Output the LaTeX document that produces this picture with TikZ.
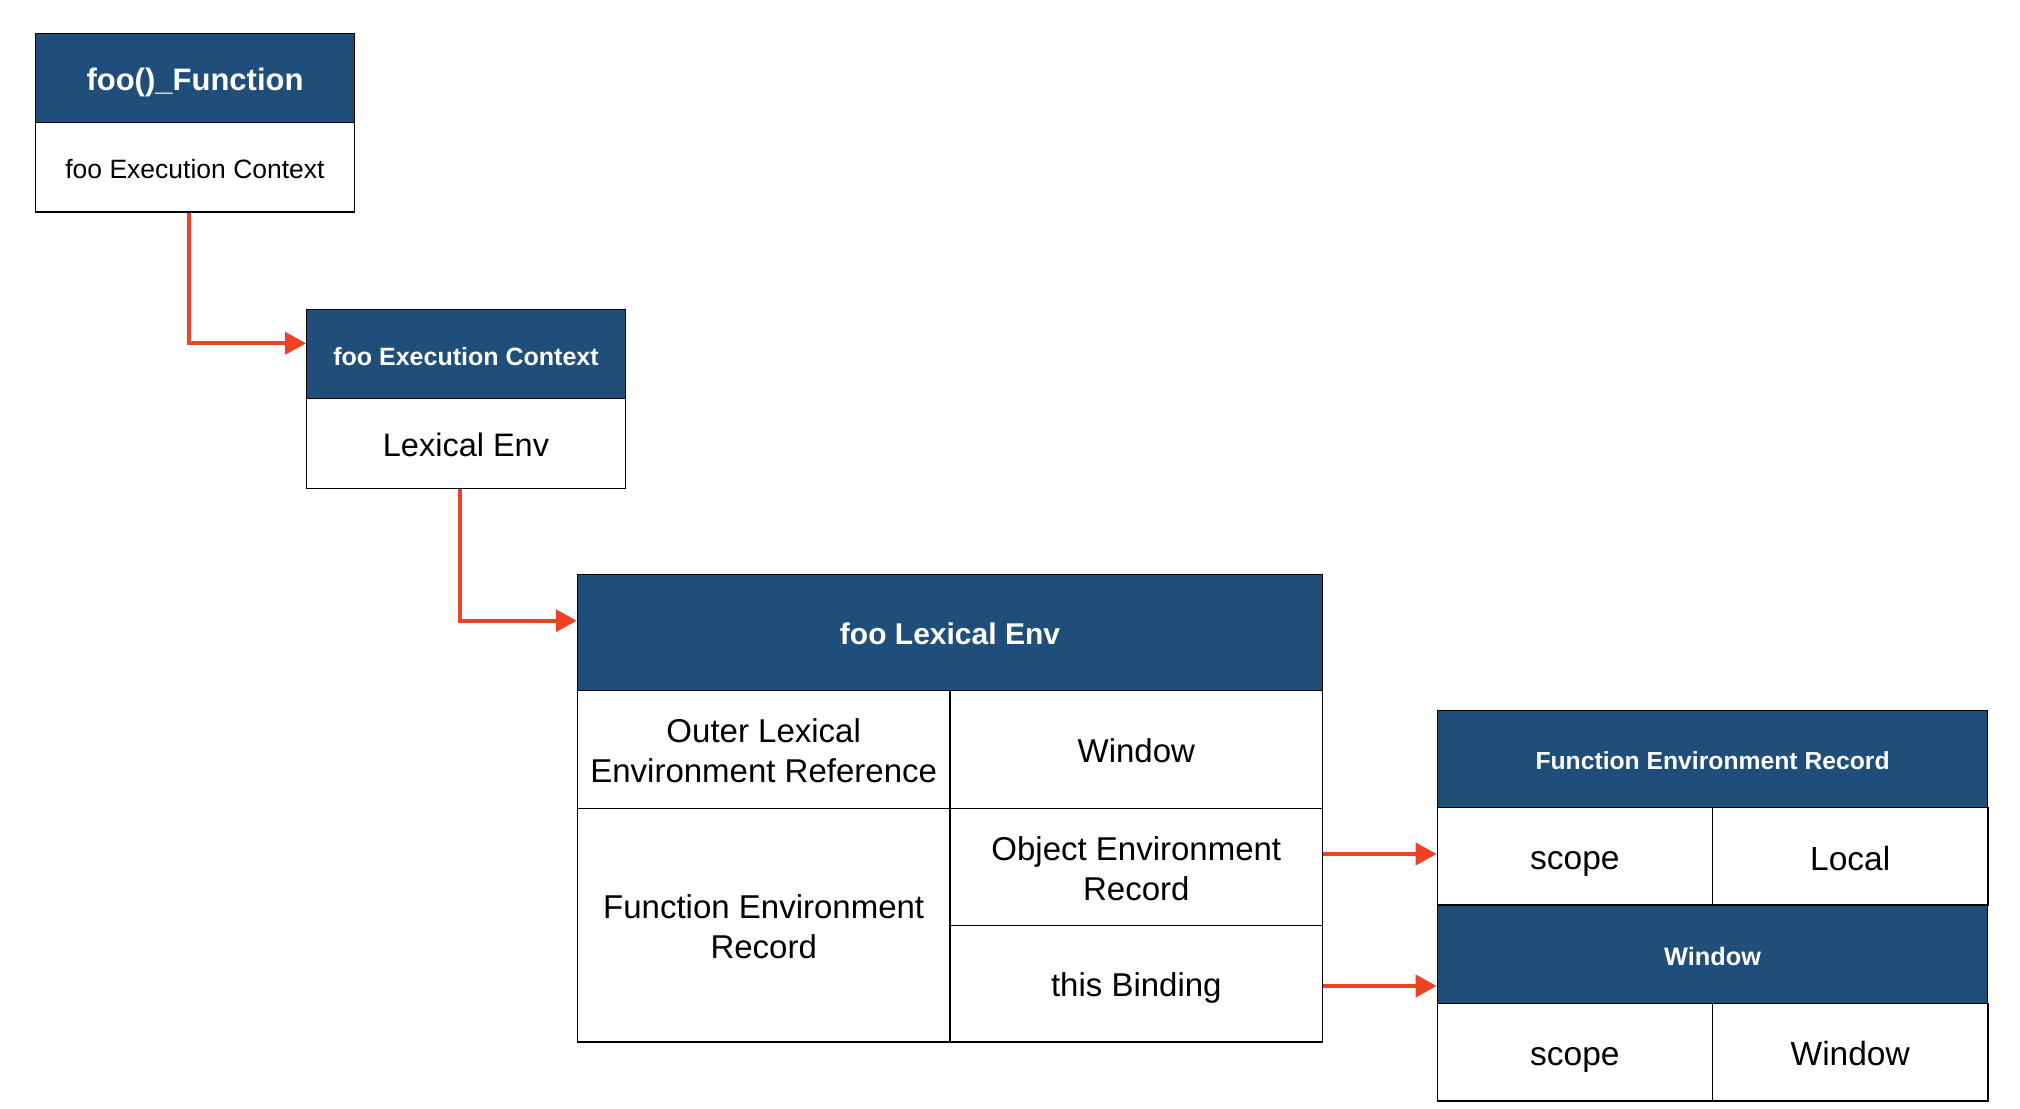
\documentclass[tikz,border=0pt]{standalone}
\usepackage{fontspec}
\setmainfont{Liberation Sans}
\usetikzlibrary{arrows.meta}
\definecolor{hblue}{RGB}{31,78,122}
\definecolor{ared}{RGB}{238,65,38}
\newcommand\fsz[2]{\fontsize{#1}{#2}\selectfont}
\tikzset{
  hd/.style={draw=black, line width=1.3pt, fill=hblue, text=white, inner sep=0pt, align=center},
  cell/.style={draw=black, line width=1.3pt, fill=white, text=black, inner sep=0pt, align=center},
  htxt/.style={text=white, inner sep=0pt, align=center},
  btxt/.style={text=black, inner sep=0pt, align=center},
  arr/.style={draw=ared, line width=4pt, -{Triangle[length=21pt,width=22pt]}},
}
\begin{document}
\begin{tikzpicture}[x=1pt,y=-1pt]
\useasboundingbox[fill=white] (0,0) rectangle (2020,1108);

% Box 1
\node[hd, minimum width=318.6pt, minimum height=89.4pt] (b1h) at (195,78) {};
\node[htxt, font=\fsz{31}{37}\bfseries] (t-b1h) at ([yshift=-4pt]b1h.center) {foo()\_Function};
\node[cell, minimum width=318.6pt, minimum height=89.3pt] (b1b) at (195,167.35) {};
\node[btxt, font=\fsz{26.5}{32}] (t-b1b) at ([yshift=-1.3pt]b1b.center) {foo Execution Context};

% Box 2
\node[hd, minimum width=318.6pt, minimum height=89.4pt] (b2h) at (466,354) {};
\node[htxt, font=\fsz{25}{30}\bfseries] (t-b2h) at ([yshift=-2.6pt]b2h.center) {foo Execution Context};
\node[cell, minimum width=318.6pt, minimum height=89.6pt] (b2b) at (466,443.5) {};
\node[btxt, font=\fsz{32.5}{39}] (t-b2b) at ([yshift=-1.3pt]b2b.center) {Lexical Env};

% Box 3
\node[hd, minimum width=745.2pt, minimum height=116.4pt] (b3h) at (950,632.5) {};
\node[htxt, font=\fsz{30}{36}\bfseries] (t-b3h) at ([yshift=-1.3pt]b3h.center) {foo Lexical Env};
\node[cell, minimum width=372.6pt, minimum height=117.6pt] (outer) at (763.7,749.5) {};
\node[btxt, font=\fsz{33}{40}] (t-outer) at ([yshift=-1.5pt]outer.center) {Outer Lexical\\Environment Reference};
\node[cell, minimum width=372.6pt, minimum height=117.6pt] (win1) at (1136.3,749.5) {};
\node[btxt, font=\fsz{33}{40}] (t-win1) at ([yshift=-1.3pt]win1.center) {Window};
\node[cell, minimum width=372.6pt, minimum height=233.7pt] (fer) at (763.7,925.15) {};
\node[btxt, font=\fsz{33}{40}] (t-fer) at ([yshift=-1.5pt]fer.center) {Function Environment\\Record};
\node[cell, minimum width=372.6pt, minimum height=117pt] (objrec) at (1136.3,866.8) {};
\node[btxt, font=\fsz{33}{40}] (t-objrec) at ([yshift=-1.5pt]objrec.center) {Object Environment\\Record};
\node[cell, minimum width=372.6pt, minimum height=116.7pt] (bind) at (1136.3,983.7) {};
\node[btxt, font=\fsz{33}{40}] (t-bind) at ([yshift=-3.9pt]bind.center) {this Binding};

% Box 4
\node[hd, minimum width=550.5pt, minimum height=97pt] (b4h) at (1712.55,759.2) {};
\node[htxt, font=\fsz{24.7}{30}\bfseries] (t-b4h) at ([yshift=-1.3pt]b4h.center) {Function Environment Record};
\node[cell, minimum width=275.25pt, minimum height=97.3pt] (scope1) at (1574.9,856.35) {};
\node[btxt, font=\fsz{33.5}{39}] (t-scope1) at ([yshift=-7.7pt]scope1.center) {scope};
\node[cell, minimum width=275.25pt, minimum height=97.3pt] (local) at (1850.2,856.35) {};
\node[btxt, font=\fsz{33.5}{39}] (t-local) at ([yshift=-2.6pt]local.center) {Local};
\node[hd, minimum width=550.5pt, minimum height=98.3pt] (b4w) at (1712.55,954.15) {};
\node[htxt, font=\fsz{25.3}{30}\bfseries] (t-b4w) at ([yshift=-2.6pt]b4w.center) {Window};
\node[cell, minimum width=275.25pt, minimum height=97.7pt] (scope2) at (1574.9,1052.15) {};
\node[btxt, font=\fsz{33.5}{39}] (t-scope2) at ([yshift=-7.7pt]scope2.center) {scope};
\node[cell, minimum width=275.25pt, minimum height=97.7pt] (win2) at (1850.2,1052.15) {};
\node[btxt, font=\fsz{33.5}{39}] (t-win2) at ([yshift=-1.3pt]win2.center) {Window};

% Connectors
\draw[arr] ([xshift=-5.7pt]b1b.south) |- ([yshift=10.7pt]b2h.west);
\draw[arr] ([xshift=-5.7pt]b2b.south) |- ([yshift=11.8pt]b3h.west);
\coordinate (a3) at ([yshift=12.8pt]objrec.east);
\draw[arr] (a3) -- (a3 -| scope1.west);
\coordinate (a4) at ([yshift=-2.3pt]bind.east);
\draw[arr] (a4) -- (a4 -| b4w.west);
\end{tikzpicture}
\end{document}
